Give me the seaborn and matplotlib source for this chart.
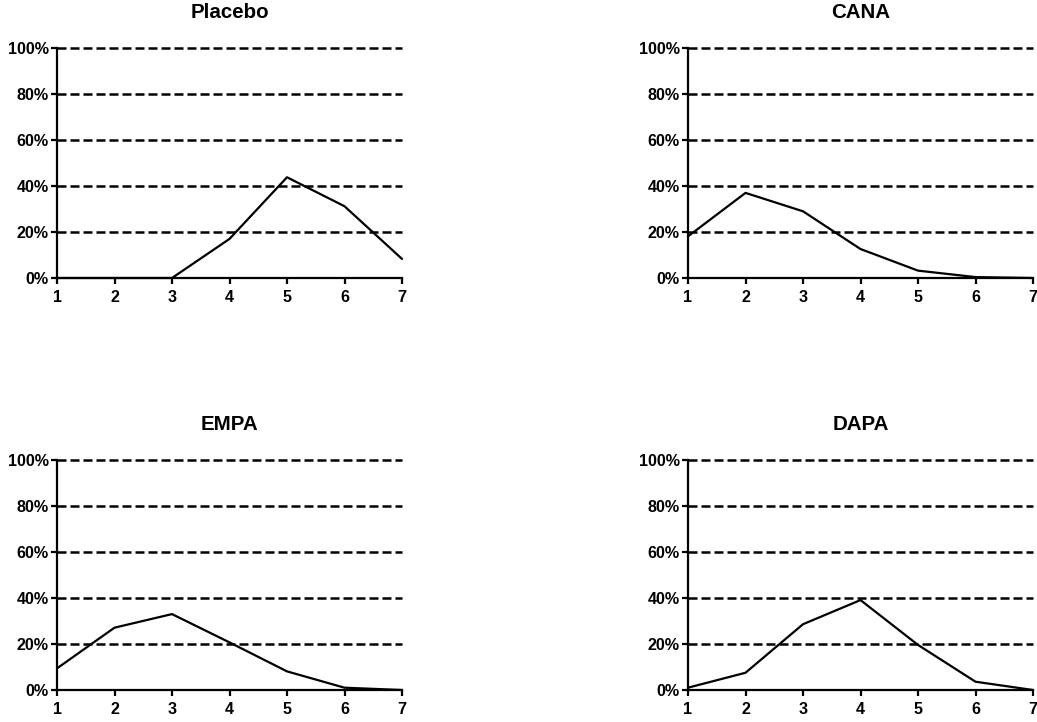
import matplotlib
matplotlib.use("Agg")
import matplotlib.pyplot as plt
import seaborn as sns
import pandas as pd
from matplotlib.ticker import PercentFormatter

sns.set_theme(style="ticks")
plt.rcParams["font.family"] = ["Liberation Sans", "DejaVu Sans"]
plt.rcParams["font.weight"] = "bold"
plt.rcParams["text.color"] = "black"
plt.rcParams["xtick.color"] = "black"
plt.rcParams["ytick.color"] = "black"

# Number of categories (x) and share of patients (%) per treatment arm
x_values = [1, 2, 3, 4, 5, 6, 7]
placebo = [0, 0, 0, 17.0, 43.8, 31.2, 8.3]
cana = [18.1, 37.0, 29.0, 12.6, 3.2, 0.4, 0]
empa = [9.4, 27.1, 33.0, 20.7, 8.1, 1.0, 0]
dapa = [1.0, 7.5, 28.6, 39.1, 19.6, 3.6, 0]
arm_names = ["Placebo", "CANA", "EMPA", "DAPA"]
y_ticks = [0, 20, 40, 60, 80, 100]

series = [placebo, cana, empa, dapa]
df = pd.concat(
    [pd.DataFrame({"x": x_values, "pct": vals, "arm": name})
     for name, vals in zip(arm_names, series)],
    ignore_index=True,
)

W, H = 1037, 722
fig = plt.figure(figsize=(W / 100, H / 100), dpi=100)

# axes boxes in pixel coordinates: (left, right, top(100%), bottom(0%))
boxes = [(57, 402, 48, 278), (688, 1033, 48, 278),
         (57, 402, 460, 690), (688, 1033, 460, 690)]

for name, (l, r, t, b) in zip(arm_names, boxes):
    ax = fig.add_axes([l / W, 1 - b / H, (r - l) / W, (b - t) / H])
    for yv in y_ticks[1:]:
        ax.axhline(yv, color="black", lw=1.8, dashes=(3.6, 1.6), zorder=1,
                   clip_on=False)
    sns.lineplot(data=df[df["arm"] == name], x="x", y="pct", ax=ax,
                 color="black", lw=1.6, zorder=3, clip_on=False)
    ax.set_xlim(1, 7)
    ax.set_ylim(0, 100)
    ax.set_xticks(x_values)
    ax.set_yticks(y_ticks)
    ax.yaxis.set_major_formatter(PercentFormatter(decimals=0))
    ax.set_xlabel("")
    ax.set_ylabel("")
    ax.set_title(name, fontsize=14.8, fontweight="bold", pad=21.5,
                 color="black")
    sns.despine(ax=ax)
    for s in ("left", "bottom"):
        ax.spines[s].set_linewidth(1.6)
        ax.spines[s].set_color("black")
    ax.tick_params(axis="both", length=4.5, width=1.6, color="black",
                   labelsize=11.6, labelcolor="black")
    ax.tick_params(axis="x", pad=4.5)
    ax.tick_params(axis="y", pad=1.5)
    for lab in ax.get_xticklabels() + ax.get_yticklabels():
        lab.set_fontweight("bold")
    ax.set_facecolor("white")

fig.savefig("out.png", dpi=100, facecolor="white")
